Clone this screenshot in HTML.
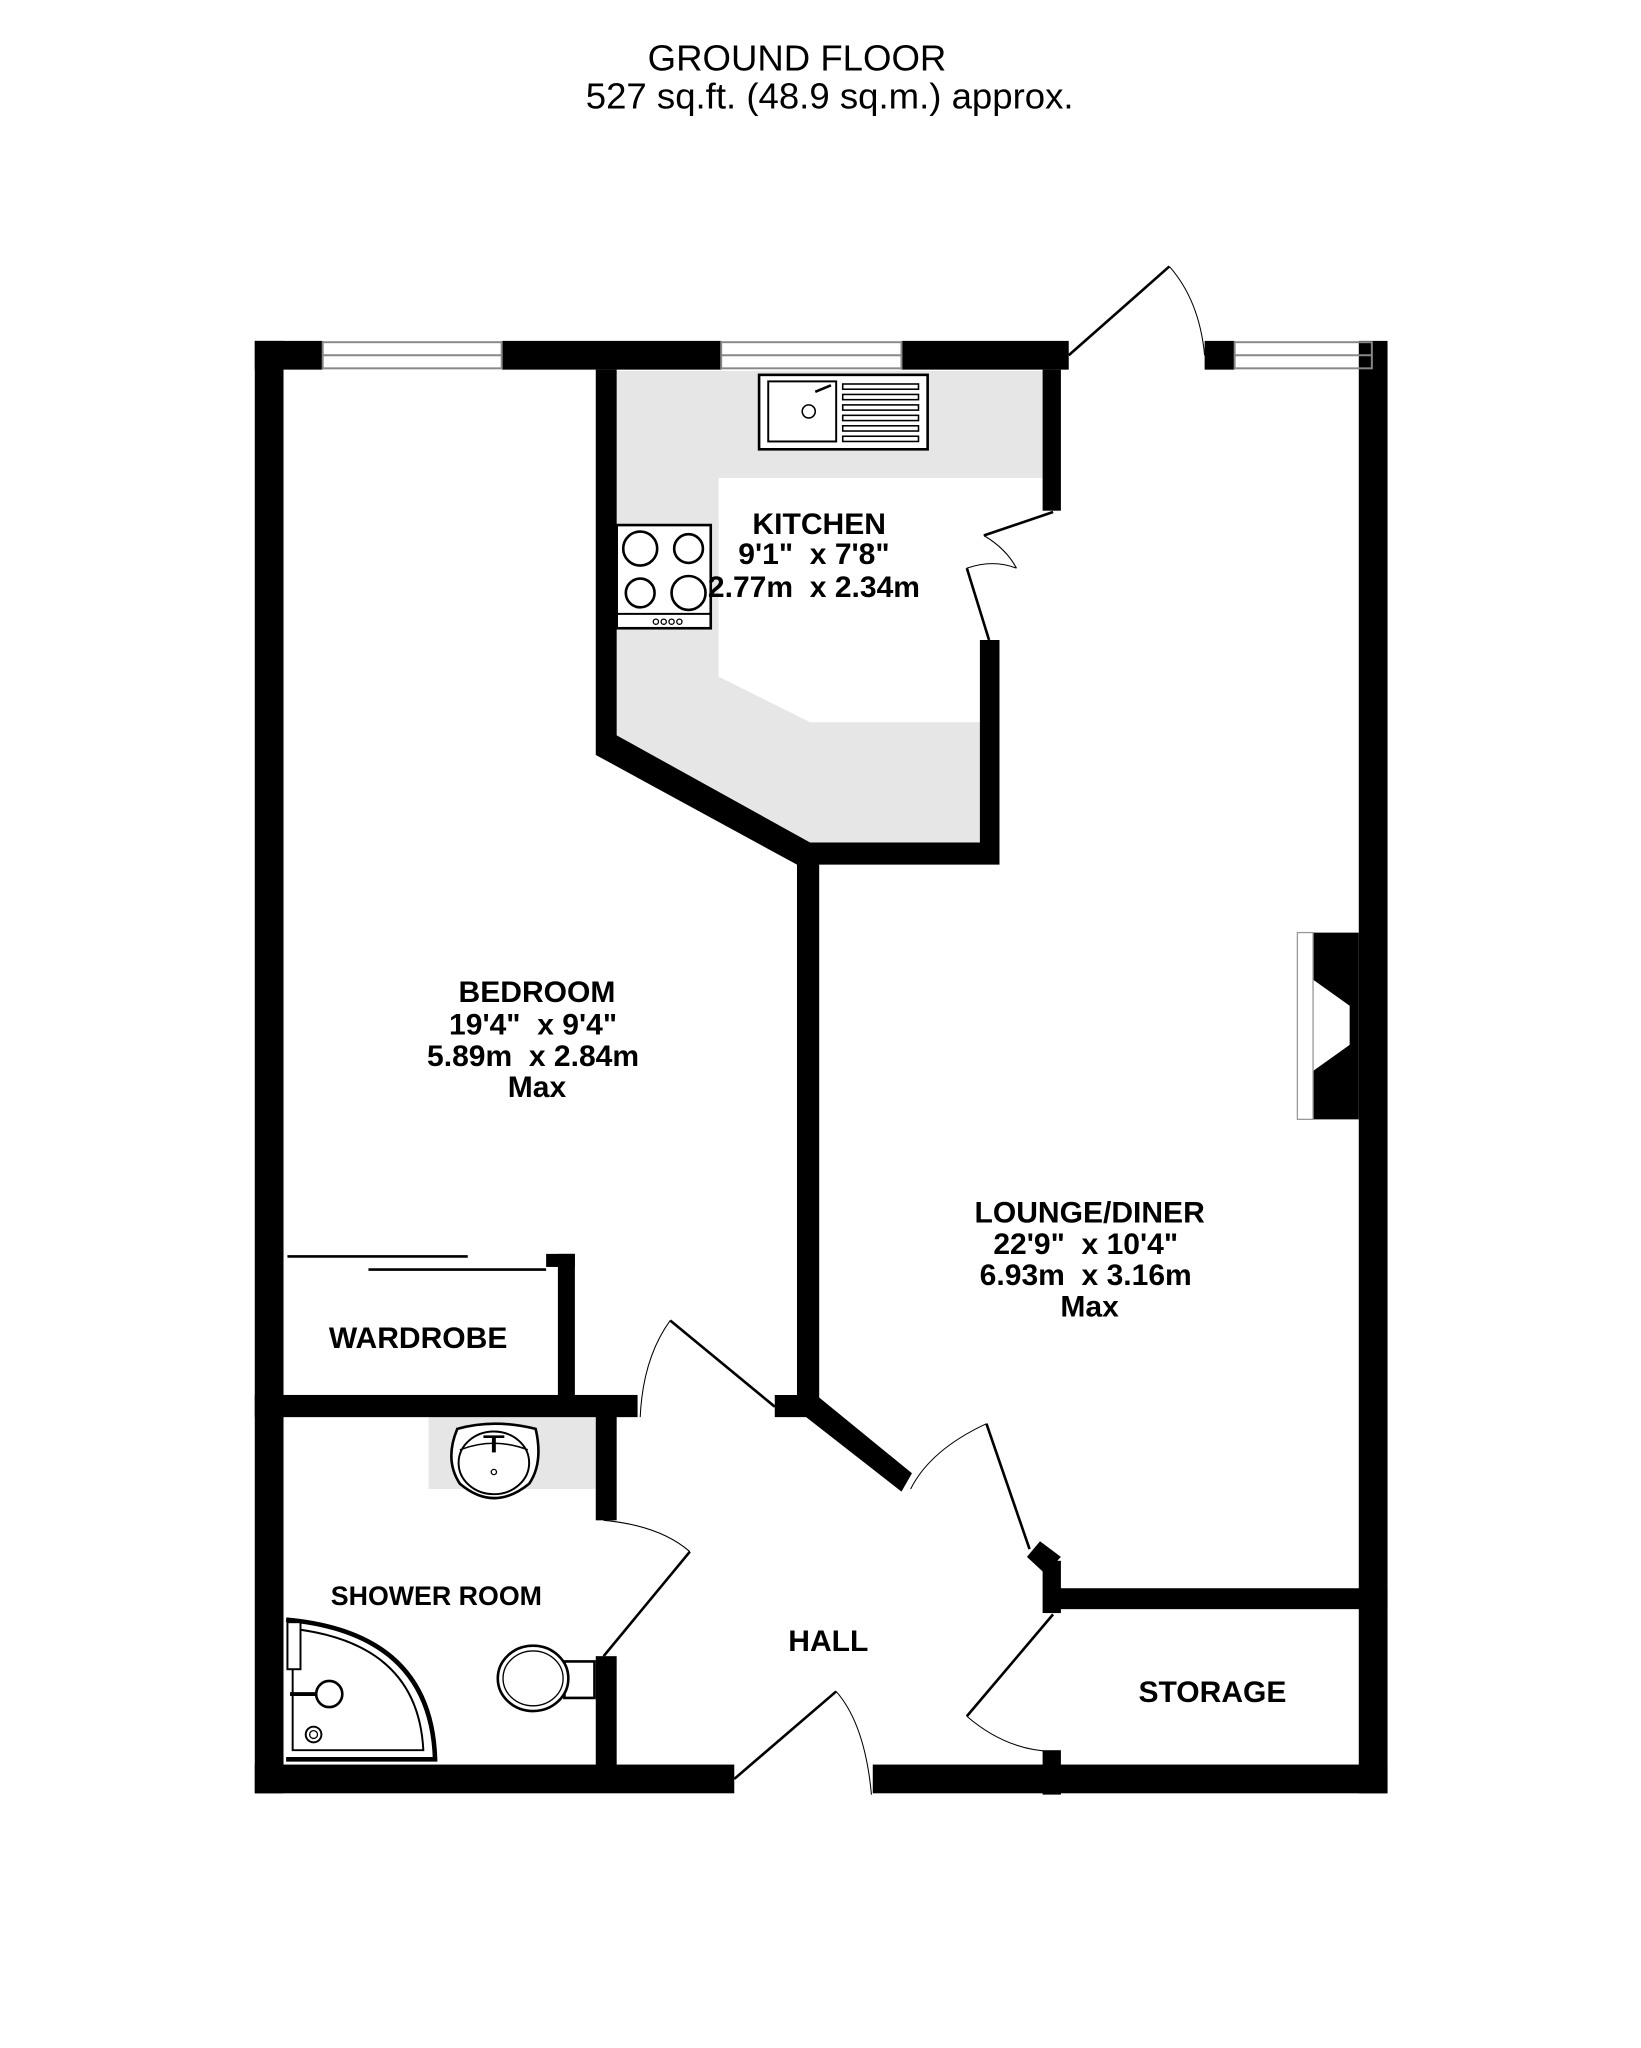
<!DOCTYPE html>
<html><head><meta charset="utf-8"><style>html,body{margin:0;padding:0;background:#fff}svg{display:block}text{white-space:pre}</style></head>
<body>
<svg width="1641" height="2048" viewBox="0 0 1256 1568" preserveAspectRatio="none" xmlns="http://www.w3.org/2000/svg" font-family="Liberation Sans, sans-serif">
<rect width="1256" height="1568" fill="#fff"/>
<text x="610" y="54" font-size="28" text-anchor="middle">GROUND FLOOR</text>
<text x="635" y="83" font-size="28" text-anchor="middle">527 sq.ft. (48.9 sq.m.) approx.</text>

<path d="M472 284 H798 V366 H550 V518 L620 553 H750 V645 H620 L472 568 Z" fill="#e6e6e6"/>
<rect x="328" y="1084" width="128" height="56" fill="#e6e6e6"/>

<g fill="#000">
<rect x="195" y="261" width="22" height="1112"/>
<rect x="1040" y="261" width="22" height="1112"/>
<rect x="195" y="261" width="52" height="22"/>
<rect x="384" y="261" width="168" height="22"/>
<rect x="690" y="261" width="128" height="22"/>
<rect x="922" y="261" width="23" height="22"/>
<rect x="195" y="1351" width="367" height="22"/>
<rect x="668" y="1351" width="394" height="22"/>
<polygon points="456,283 472,283 472,563 620,645 750,645 750,490 765,490 765,662 610,662 456,578"/>
<rect x="798" y="283" width="14" height="108"/>
<polygon points="610,660 627,660 627,1070 698,1128 690,1142 617,1085 593,1085 593,1068 610,1068"/>
<rect x="427" y="960" width="13" height="110"/>
<rect x="418" y="960" width="22" height="10"/>
<rect x="195" y="1068" width="293" height="17"/>
<rect x="456" y="1084" width="16" height="80"/>
<rect x="456" y="1268" width="16" height="84"/>
<rect x="800" y="1216" width="262" height="16"/>
<rect x="798" y="1195" width="14" height="40"/>
<polygon points="786,1192 796,1180 812,1192 800,1205"/>
<rect x="798" y="1340" width="14" height="34"/>
<polygon points="1005,714 1040,714 1040,857 1005,857 1005,820 1033,800 1033,770 1005,750"/>
</g>
<rect x="993" y="714" width="12" height="143" fill="#fff" stroke="#999" stroke-width="1"/>

<g stroke="#888" stroke-width="1.5" fill="none">
<rect x="247" y="262" width="137" height="20"/><line x1="247" y1="272" x2="384" y2="272"/>
<rect x="552" y="262" width="138" height="20"/><line x1="552" y1="272" x2="690" y2="272"/>
<rect x="945" y="262" width="105" height="20"/><line x1="945" y1="272" x2="1050" y2="272"/>
</g>

<g stroke="#000" stroke-width="2" fill="none">
<line x1="818" y1="272" x2="895" y2="204"/>
<path d="M895 204 Q918 230 922 272" stroke-width="0.8"/>
<line x1="806" y1="392" x2="753" y2="410"/>
<path d="M753 410 Q770 420 778 435" stroke-width="0.8"/>
<line x1="757" y1="490" x2="740" y2="435"/>
<path d="M740 435 Q760 428 778 435" stroke-width="0.8"/>
<line x1="593" y1="1077" x2="513" y2="1011"/>
<path d="M513 1011 Q492 1040 490 1085" stroke-width="0.8"/>
<line x1="788" y1="1186" x2="755" y2="1090"/>
<path d="M755 1090 Q712 1110 697 1140" stroke-width="0.8"/>
<line x1="528" y1="1188" x2="462" y2="1268"/>
<path d="M462 1164 Q505 1168 528 1188" stroke-width="0.8"/>
<line x1="562" y1="1362" x2="640" y2="1295"/>
<path d="M640 1295 Q662 1320 667 1374" stroke-width="0.8"/>
<line x1="806" y1="1236" x2="740" y2="1314"/>
<path d="M740 1314 Q770 1340 806 1341" stroke-width="0.8"/>
<line x1="220" y1="962" x2="358" y2="962"/>
<line x1="282" y1="972" x2="418" y2="972"/>
</g>

<g stroke="#000" fill="#fff" stroke-width="2">
<rect x="581" y="287" width="129" height="57"/>
<rect x="588" y="292" width="52" height="46" stroke-width="1.5"/>
<circle cx="619" cy="315" r="5" stroke-width="1.2"/>
<path d="M624 300 L636 295" stroke-width="2"/>
</g>
<g stroke="#000" fill="none" stroke-width="1.2">
<rect x="645" y="294" width="58" height="4"/><rect x="645" y="302" width="58" height="4"/><rect x="645" y="310" width="58" height="4"/>
<rect x="645" y="318" width="58" height="4"/><rect x="645" y="326" width="58" height="4"/><rect x="645" y="334" width="58" height="4"/>
</g>
<g stroke="#000" fill="#fff" stroke-width="2">
<rect x="472" y="402" width="72" height="79"/>
<line x1="472" y1="470" x2="544" y2="470" stroke-width="1.5"/>
<circle cx="490" cy="420" r="13"/><circle cx="527" cy="420" r="11"/>
<circle cx="490" cy="454" r="11"/><circle cx="527" cy="454" r="13"/>
</g>
<g stroke="#000" fill="none" stroke-width="1"><circle cx="502" cy="476" r="2"/><circle cx="508" cy="476" r="2"/><circle cx="514" cy="476" r="2"/><circle cx="520" cy="476" r="2"/></g>

<g stroke="#000" fill="#fff" stroke-width="2">
<path d="M350 1094 Q378 1086 410 1094 Q416 1120 405 1136 Q378 1158 352 1136 Q340 1118 350 1094 Z"/>
<ellipse cx="378" cy="1120" rx="27" ry="24" stroke-width="1.5"/>
<path d="M352 1110 Q378 1100 404 1110" stroke-width="1.2" fill="none"/>
<line x1="378" y1="1100" x2="378" y2="1112" stroke-width="3"/>
<line x1="370" y1="1100" x2="386" y2="1100" stroke-width="2"/>
<circle cx="378" cy="1127" r="2" stroke-width="1"/>
</g>
<g stroke="#000" fill="#fff" stroke-width="2">
<path d="M432 1272 H455 V1300 H432 Z"/>
<ellipse cx="408" cy="1285" rx="27" ry="25"/>
<ellipse cx="408" cy="1285" rx="23" ry="21" stroke-width="1"/>
</g>
<g stroke="#000" fill="none">
<path d="M219 1240 Q330 1250 333 1347 H219" stroke-width="3.5"/>
<path d="M224 1247 Q320 1258 324 1340 H224 Z" stroke-width="1.5"/>
<rect x="220" y="1242" width="10" height="36" fill="#fff" stroke-width="1.5"/>
<circle cx="252" cy="1297" r="10" stroke-width="2"/>
<line x1="222" y1="1297" x2="242" y2="1297" stroke-width="3"/>
<circle cx="240" cy="1328" r="6" stroke-width="1.5"/><circle cx="240" cy="1328" r="3" stroke-width="1"/>
</g>

<g font-weight="bold" font-size="23" text-anchor="middle" fill="#000">
<text x="627" y="409">KITCHEN</text>
<text x="623" y="432">9'1"  x 7'8"</text>
<text x="623" y="457">2.77m  x 2.34m</text>
<text x="411" y="767">BEDROOM</text>
<text x="408" y="792">19'4"  x 9'4"</text>
<text x="408" y="816">5.89m  x 2.84m</text>
<text x="411" y="840">Max</text>
<text x="834" y="936">LOUNGE/DINER</text>
<text x="831" y="960">22'9"  x 10'4"</text>
<text x="831" y="984">6.93m  x 3.16m</text>
<text x="834" y="1008">Max</text>
<text x="320" y="1032">WARDROBE</text>
<text x="334" y="1229" font-size="20.5">SHOWER ROOM</text>
<text x="634" y="1264">HALL</text>
<text x="928" y="1303">STORAGE</text>
</g>
</svg>
</body></html>
